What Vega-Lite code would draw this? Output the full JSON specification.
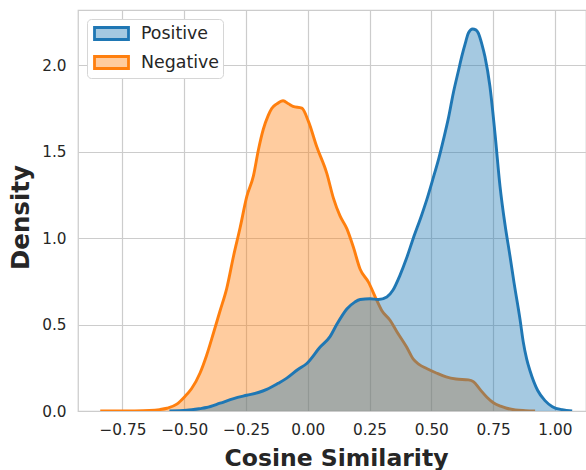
{
  "$schema": "https://vega.github.io/schema/vega-lite/v6.json",
  "width": 508,
  "height": 401,
  "autosize": {"type": "none"},
  "padding": {"left": 78, "top": 10, "right": 0, "bottom": 59},
  "config": {
    "font": "DejaVu Sans",
    "view": {"stroke": "#cccccc", "strokeWidth": 1.25},
    "axis": {
      "grid": true,
      "gridColor": "#cccccc",
      "gridWidth": 1.2,
      "domain": false,
      "ticks": false,
      "labelFont": "DejaVu Sans",
      "labelFontSize": 15.3,
      "labelColor": "#262626",
      "titleFont": "DejaVu Sans",
      "titleFontWeight": "bold",
      "titleColor": "#262626"
    }
  },
  "data": {
    "values": [
      {"s": "Negative", "x": -0.84, "y": 0},
      {"s": "Negative", "x": -0.7, "y": 0.001},
      {"s": "Negative", "x": -0.64, "y": 0.003},
      {"s": "Negative", "x": -0.6, "y": 0.008},
      {"s": "Negative", "x": -0.57, "y": 0.016},
      {"s": "Negative", "x": -0.53, "y": 0.04},
      {"s": "Negative", "x": -0.5, "y": 0.08},
      {"s": "Negative", "x": -0.47, "y": 0.13},
      {"s": "Negative", "x": -0.436, "y": 0.22},
      {"s": "Negative", "x": -0.41, "y": 0.32},
      {"s": "Negative", "x": -0.382, "y": 0.45},
      {"s": "Negative", "x": -0.355, "y": 0.58},
      {"s": "Negative", "x": -0.328, "y": 0.71},
      {"s": "Negative", "x": -0.3, "y": 0.9},
      {"s": "Negative", "x": -0.274, "y": 1.06},
      {"s": "Negative", "x": -0.247, "y": 1.24},
      {"s": "Negative", "x": -0.22, "y": 1.36},
      {"s": "Negative", "x": -0.2, "y": 1.51},
      {"s": "Negative", "x": -0.18, "y": 1.63},
      {"s": "Negative", "x": -0.16, "y": 1.71},
      {"s": "Negative", "x": -0.146, "y": 1.75},
      {"s": "Negative", "x": -0.125, "y": 1.777},
      {"s": "Negative", "x": -0.1, "y": 1.795},
      {"s": "Negative", "x": -0.078, "y": 1.777},
      {"s": "Negative", "x": -0.06, "y": 1.762},
      {"s": "Negative", "x": -0.024, "y": 1.752},
      {"s": "Negative", "x": 0.003, "y": 1.674},
      {"s": "Negative", "x": 0.036, "y": 1.53},
      {"s": "Negative", "x": 0.077, "y": 1.375},
      {"s": "Negative", "x": 0.104, "y": 1.23},
      {"s": "Negative", "x": 0.13, "y": 1.13},
      {"s": "Negative", "x": 0.158, "y": 1.055},
      {"s": "Negative", "x": 0.184, "y": 0.95},
      {"s": "Negative", "x": 0.212, "y": 0.82},
      {"s": "Negative", "x": 0.245, "y": 0.747},
      {"s": "Negative", "x": 0.279, "y": 0.641},
      {"s": "Negative", "x": 0.3, "y": 0.58},
      {"s": "Negative", "x": 0.333, "y": 0.525},
      {"s": "Negative", "x": 0.36, "y": 0.46},
      {"s": "Negative", "x": 0.4, "y": 0.37},
      {"s": "Negative", "x": 0.427, "y": 0.3},
      {"s": "Negative", "x": 0.45, "y": 0.27},
      {"s": "Negative", "x": 0.481, "y": 0.246},
      {"s": "Negative", "x": 0.52, "y": 0.22},
      {"s": "Negative", "x": 0.56, "y": 0.197},
      {"s": "Negative", "x": 0.6, "y": 0.185},
      {"s": "Negative", "x": 0.65, "y": 0.18},
      {"s": "Negative", "x": 0.67, "y": 0.17},
      {"s": "Negative", "x": 0.697, "y": 0.125},
      {"s": "Negative", "x": 0.725, "y": 0.08},
      {"s": "Negative", "x": 0.751, "y": 0.048},
      {"s": "Negative", "x": 0.78, "y": 0.028},
      {"s": "Negative", "x": 0.805, "y": 0.016},
      {"s": "Negative", "x": 0.84, "y": 0.006},
      {"s": "Negative", "x": 0.88, "y": 0.002},
      {"s": "Negative", "x": 0.92, "y": 0},
      {"s": "Positive", "x": -0.56, "y": 0},
      {"s": "Positive", "x": -0.49, "y": 0.004},
      {"s": "Positive", "x": -0.436, "y": 0.014},
      {"s": "Positive", "x": -0.41, "y": 0.02},
      {"s": "Positive", "x": -0.355, "y": 0.045},
      {"s": "Positive", "x": -0.3, "y": 0.072},
      {"s": "Positive", "x": -0.247, "y": 0.091},
      {"s": "Positive", "x": -0.2, "y": 0.107},
      {"s": "Positive", "x": -0.166, "y": 0.125},
      {"s": "Positive", "x": -0.12, "y": 0.16},
      {"s": "Positive", "x": -0.085, "y": 0.19},
      {"s": "Positive", "x": -0.04, "y": 0.24},
      {"s": "Positive", "x": -0.004, "y": 0.275},
      {"s": "Positive", "x": 0.05, "y": 0.37},
      {"s": "Positive", "x": 0.09, "y": 0.43},
      {"s": "Positive", "x": 0.117, "y": 0.5},
      {"s": "Positive", "x": 0.158, "y": 0.59},
      {"s": "Positive", "x": 0.19, "y": 0.63},
      {"s": "Positive", "x": 0.212, "y": 0.645},
      {"s": "Positive", "x": 0.252, "y": 0.649},
      {"s": "Positive", "x": 0.286, "y": 0.645},
      {"s": "Positive", "x": 0.32, "y": 0.66},
      {"s": "Positive", "x": 0.345, "y": 0.7},
      {"s": "Positive", "x": 0.373, "y": 0.785},
      {"s": "Positive", "x": 0.4, "y": 0.885},
      {"s": "Positive", "x": 0.427, "y": 1.0},
      {"s": "Positive", "x": 0.46, "y": 1.13},
      {"s": "Positive", "x": 0.481, "y": 1.22},
      {"s": "Positive", "x": 0.508, "y": 1.35},
      {"s": "Positive", "x": 0.53, "y": 1.46},
      {"s": "Positive", "x": 0.549, "y": 1.57},
      {"s": "Positive", "x": 0.57, "y": 1.7},
      {"s": "Positive", "x": 0.589, "y": 1.84},
      {"s": "Positive", "x": 0.61, "y": 1.97},
      {"s": "Positive", "x": 0.623, "y": 2.05},
      {"s": "Positive", "x": 0.64, "y": 2.14},
      {"s": "Positive", "x": 0.65, "y": 2.187},
      {"s": "Positive", "x": 0.667, "y": 2.21},
      {"s": "Positive", "x": 0.68, "y": 2.205},
      {"s": "Positive", "x": 0.69, "y": 2.187},
      {"s": "Positive", "x": 0.705, "y": 2.12},
      {"s": "Positive", "x": 0.717, "y": 2.05},
      {"s": "Positive", "x": 0.737, "y": 1.88},
      {"s": "Positive", "x": 0.758, "y": 1.6},
      {"s": "Positive", "x": 0.778, "y": 1.3},
      {"s": "Positive", "x": 0.798, "y": 1.08},
      {"s": "Positive", "x": 0.818, "y": 0.9},
      {"s": "Positive", "x": 0.835, "y": 0.74},
      {"s": "Positive", "x": 0.859, "y": 0.53},
      {"s": "Positive", "x": 0.872, "y": 0.4},
      {"s": "Positive", "x": 0.886, "y": 0.3},
      {"s": "Positive", "x": 0.9, "y": 0.23},
      {"s": "Positive", "x": 0.93, "y": 0.12},
      {"s": "Positive", "x": 0.96, "y": 0.06},
      {"s": "Positive", "x": 0.99, "y": 0.025},
      {"s": "Positive", "x": 1.03, "y": 0.007},
      {"s": "Positive", "x": 1.07, "y": 0}
    ]
  },
  "encoding": {
    "x": {
      "field": "x",
      "type": "quantitative",
      "scale": {"domain": [-0.93, 1.126], "nice": false, "zero": false},
      "axis": {
        "title": "Cosine Similarity",
        "values": [-0.75, -0.5, -0.25, 0, 0.25, 0.5, 0.75, 1.0],
        "format": ".2f",
        "labelPadding": 11,
        "titleFontSize": 23.5,
        "titleBaseline": "alphabetic",
        "titleX": 258,
        "titleY": 54
      }
    },
    "y": {
      "field": "y",
      "type": "quantitative",
      "stack": null,
      "scale": {"domain": [0, 2.32], "nice": false},
      "axis": {
        "title": "Density",
        "values": [0, 0.5, 1, 1.5, 2],
        "format": ".1f",
        "labelPadding": 12,
        "titleFontSize": 24.5,
        "titleAngle": -90,
        "titleAlign": "center",
        "titleBaseline": "alphabetic",
        "titleX": -50,
        "titleY": 207
      }
    },
    "color": {
      "field": "s",
      "type": "nominal",
      "scale": {"domain": ["Positive", "Negative"], "range": ["#1f77b4", "#ff7f0e"]},
      "legend": {
        "title": null,
        "orient": "top-left",
        "offset": 9,
        "fillColor": "white",
        "strokeColor": "#d6d6d6",
        "cornerRadius": 4,
        "padding": 3,
        "labelFont": "DejaVu Sans",
        "labelFontSize": 17.4,
        "labelColor": "#262626",
        "labelOffset": 18,
        "rowPadding": 4,
        "symbolOffset": 10,
        "symbolType": "M-1.7,-0.6H1.7V0.6H-1.7Z",
        "symbolSize": 400,
        "symbolStrokeWidth": 2.8,
        "encode": {
          "symbols": {
            "update": {
              "fillOpacity": {"value": 0.4},
              "strokeOpacity": {"value": 1},
              "stroke": {"scale": "color", "field": "value"},
              "fill": {"scale": "color", "field": "value"},
              "strokeWidth": {"value": 2.8}
            }
          }
        }
      }
    }
  },
  "layer": [
    {
      "transform": [{"filter": "datum.s === 'Negative'"}],
      "mark": {"type": "area", "interpolate": "monotone", "fillOpacity": 0.4, "clip": true, "line": {"strokeWidth": 2.9}}
    },
    {
      "transform": [{"filter": "datum.s === 'Positive'"}],
      "mark": {"type": "area", "interpolate": "monotone", "fillOpacity": 0.4, "clip": true, "line": {"strokeWidth": 2.9}}
    }
  ]
}
